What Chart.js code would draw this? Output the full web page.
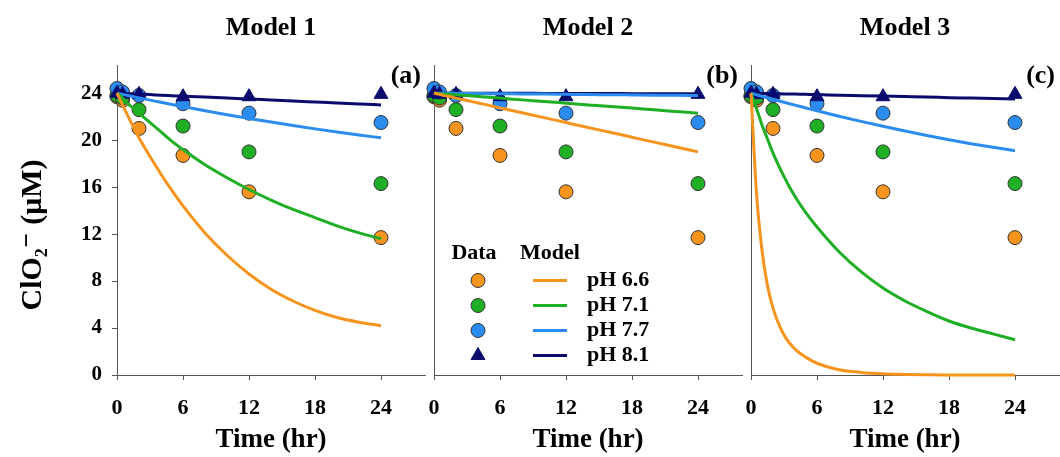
<!DOCTYPE html>
<html>
<head>
<meta charset="utf-8">
<title>ClO2- decay, three models</title>
<script src="https://cdn.jsdelivr.net/npm/chart.js@4.4.0/dist/chart.umd.min.js"></script>
<style>
    html, body { margin: 0; padding: 0; background: #fff; overflow: hidden; width: 1060px; height: 457px; }
    .panel { position: absolute; top: 0; height: 457px; }
    #p1 { left: 0; width: 434px; }
    #p2 { left: 424px; width: 327px; }
    #p3 { left: 741px; width: 327px; }
</style>
</head>
<body>
<div class="panel" id="p1"><canvas id="c1" width="434" height="457"></canvas></div>
<div class="panel" id="p2"><canvas id="c2" width="327" height="457"></canvas></div>
<div class="panel" id="p3"><canvas id="c3" width="327" height="457"></canvas></div>

<script>
// ========== DADOS ==========
const phLabels = ['pH 6.6', 'pH 7.1', 'pH 7.7', 'pH 8.1'];
const phColors = ['#F7941E', '#1FAF24', '#2B8CF0', '#0B0B6E'];
const panelTitles = ['Model 1', 'Model 2', 'Model 3'];
const panelTags = ['(a)', '(b)', '(c)'];
const xTickValues = [0, 6, 12, 18, 24];
const yTickValues = [0, 4, 8, 12, 16, 20, 24];

// measured points (same in every panel)
const dataTime = [0, 0.5, 2, 6, 12, 24];
const dataPH66 = [23.7, 23.4, 21.0, 18.7, 15.6, 11.7];
const dataPH71 = [23.8, 23.6, 22.6, 21.2, 19.0, 16.3];
const dataPH77 = [24.4, 24.1, 23.8, 23.1, 22.3, 21.5];
const dataPH81 = [24.0, 23.9, 23.9, 23.7, 23.7, 23.9];

// model curves
const modelTime = [0, 0.5, 1, 1.5, 2, 3, 4, 5, 6, 8, 10, 12, 14, 16, 18, 20, 22, 24];

const m1PH66 = [24, 23.0, 22.05, 21.1, 20.2, 18.6, 17.1, 15.7, 14.4, 12.1, 10.2, 8.6, 7.3, 6.3, 5.5, 4.9, 4.5, 4.2];
const m1PH71 = [24, 23.6, 23.1, 22.7, 22.3, 21.5, 20.7, 19.9, 19.2, 17.9, 16.8, 15.8, 14.9, 14.1, 13.4, 12.7, 12.1, 11.6];
const m1PH77 = [24, 23.9, 23.8, 23.7, 23.6, 23.41, 23.22, 23.04, 22.86, 22.51, 22.17, 21.85, 21.54, 21.24, 20.96, 20.69, 20.44, 20.2];
const m1PH81 = [24, 23.98, 23.96, 23.94, 23.92, 23.88, 23.83, 23.79, 23.75, 23.67, 23.58, 23.5, 23.42, 23.33, 23.25, 23.17, 23.08, 23.0];

const m2PH66 = [24, 23.9, 23.79, 23.69, 23.58, 23.38, 23.17, 22.96, 22.75, 22.33, 21.92, 21.5, 21.08, 20.67, 20.25, 19.83, 19.42, 19.0];
const m2PH71 = [24, 23.96, 23.93, 23.9, 23.86, 23.8, 23.72, 23.65, 23.58, 23.43, 23.3, 23.15, 23.0, 22.87, 22.73, 22.58, 22.44, 22.3];
const m2PH77 = [24, 24.0, 23.99, 23.99, 23.98, 23.98, 23.97, 23.96, 23.95, 23.93, 23.92, 23.9, 23.88, 23.87, 23.85, 23.83, 23.82, 23.8];
const m2PH81 = [24, 24, 24, 24, 24, 24, 24, 23.99, 23.99, 23.99, 23.98, 23.98, 23.97, 23.97, 23.96, 23.96, 23.95, 23.95];

const m3PH66 = [24, 15.5, 10.6, 7.6, 5.7, 3.4, 2.2, 1.5, 1.0, 0.45, 0.22, 0.1, 0.05, 0.02, 0, 0, 0, 0];
const m3PH71 = [24, 22.7, 21.3, 20.1, 18.9, 16.9, 15.2, 13.8, 12.6, 10.5, 8.8, 7.4, 6.3, 5.4, 4.6, 4.0, 3.5, 3.0];
const m3PH77 = [24, 23.87, 23.74, 23.61, 23.48, 23.23, 22.98, 22.74, 22.5, 22.04, 21.6, 21.18, 20.78, 20.4, 20.04, 19.7, 19.39, 19.1];
const m3PH81 = [24, 23.99, 23.98, 23.97, 23.96, 23.94, 23.92, 23.9, 23.88, 23.83, 23.79, 23.75, 23.71, 23.67, 23.62, 23.58, 23.54, 23.5];

const X_MAX = 28;
const Y_MAX = 26.4;
const SERIF = '"Liberation Serif", "Times New Roman", "DejaVu Serif", serif';

const dataSeries = [dataPH66, dataPH71, dataPH77, dataPH81];
const modelSeries = [
    [m1PH66, m1PH71, m1PH77, m1PH81],
    [m2PH66, m2PH71, m2PH77, m2PH81],
    [m3PH66, m3PH71, m3PH77, m3PH81]
];

// ========== PLUGINS ==========
// (a) / (b) / (c) no canto superior direito
const panelTagPlugin = {
    id: 'panelTag',
    afterDraw(chart, args, opts) {
        if (!opts.text) return;
        const { ctx, chartArea } = chart;
        ctx.save();
        ctx.font = 'bold 26px ' + SERIF;
        ctx.fillStyle = '#000';
        ctx.textAlign = 'right';
        ctx.textBaseline = 'middle';
        ctx.fillText(opts.text, chartArea.right - 4, chartArea.top + 11);
        ctx.restore();
    }
};

// legenda "Data / Model" dentro do painel 2
const phLegendPlugin = {
    id: 'phLegend',
    afterDraw(chart, args, opts) {
        if (!opts.show) return;
        const { ctx, chartArea } = chart;
        const x0 = chartArea.left, y0 = chartArea.top;
        ctx.save();
        ctx.font = 'bold 22px ' + SERIF;
        ctx.fillStyle = '#000';
        ctx.textBaseline = 'middle';
        ctx.textAlign = 'center';
        ctx.fillText('Data', x0 + 40, y0 + 188);
        ctx.fillText('Model', x0 + 116, y0 + 188);

        phLabels.forEach((label, i) => {
            const y = y0 + 215.5 + i * 25;
            const isTri = i === 3;
            ctx.fillStyle = phColors[i];
            ctx.strokeStyle = isTri ? phColors[i] : '#333';
            ctx.lineWidth = 1;
            Chart.helpers.drawPoint(ctx, {
                pointStyle: isTri ? 'triangle' : 'circle',
                radius: isTri ? 8 : 7,
                borderWidth: 1
            }, x0 + 44, y);

            ctx.strokeStyle = phColors[i];
            ctx.lineWidth = 3;
            ctx.beginPath();
            ctx.moveTo(x0 + 99, y);
            ctx.lineTo(x0 + 133, y);
            ctx.stroke();

            ctx.fillStyle = '#000';
            ctx.textAlign = 'left';
            ctx.fillText(label, x0 + 153, y);
        });
        ctx.restore();
    }
};

// ========== GRÁFICOS ==========
function buildDatasets(models) {
    const sets = [];
    models.forEach((vals, i) => {
        sets.push({
            label: phLabels[i] + ' model',
            data: modelTime.map((t, k) => ({ x: t, y: vals[k] })),
            showLine: true,
            borderColor: phColors[i],
            borderWidth: 3,
            pointRadius: 0,
            cubicInterpolationMode: 'monotone',
            order: 0,
            clip: false
        });
    });
    dataSeries.forEach((vals, i) => {
        const isTri = i === 3;
        sets.push({
            label: phLabels[i] + ' data',
            data: dataTime.map((t, k) => ({ x: t, y: vals[k] })),
            showLine: false,
            pointStyle: isTri ? 'triangle' : 'circle',
            pointRadius: isTri ? 8 : 7,
            backgroundColor: phColors[i],
            borderColor: isTri ? phColors[i] : '#333',
            pointBorderWidth: 1,
            order: 4 - i,
            clip: false
        });
    });
    return sets;
}

function makePanel(idx) {
    const first = idx === 0;
    const ctx = document.getElementById('c' + (idx + 1)).getContext('2d');

    new Chart(ctx, {
        type: 'scatter',
        data: { datasets: buildDatasets(modelSeries[idx]) },
        plugins: [panelTagPlugin, phLegendPlugin],
        options: {
            responsive: false,
            animation: false,
            events: [],
            layout: { padding: { left: first ? 0 : 10, right: 0, top: 0, bottom: 0 } },
            plugins: {
                legend: { display: false },
                tooltip: { enabled: false },
                title: {
                    display: true,
                    text: panelTitles[idx],
                    fullSize: false,
                    color: '#000',
                    font: { family: SERIF, size: 26, weight: 'bold' },
                    padding: { top: 12.4, bottom: 21.4 }
                },
                panelTag: { text: panelTags[idx] },
                phLegend: { show: idx === 1 }
            },
            scales: {
                x: {
                    type: 'linear',
                    min: 0,
                    max: X_MAX,
                    afterBuildTicks: s => { s.ticks = xTickValues.map(v => ({ value: v })); },
                    afterFit: s => { s.height = 82; s.paddingLeft = 0; s.paddingRight = 0; },
                    grid: { display: true, drawOnChartArea: false, drawTicks: true, tickLength: 5, color: '#555' },
                    border: { display: true, color: '#555', width: 1 },
                    ticks: {
                        color: '#000',
                        font: { family: SERIF, size: 22, weight: 'bold' },
                        padding: 15,
                        maxRotation: 0,
                        autoSkip: false
                    },
                    title: {
                        display: true,
                        text: 'Time (hr)',
                        color: '#000',
                        font: { family: SERIF, size: 27, weight: 'bold' },
                        padding: { top: 0, bottom: 1 }
                    }
                },
                y: {
                    type: 'linear',
                    min: 0,
                    max: Y_MAX,
                    afterBuildTicks: s => { s.ticks = yTickValues.map(v => ({ value: v })); },
                    afterFit: s => { s.width = first ? 117 : 0; },
                    grid: { display: true, drawOnChartArea: false, drawTicks: first, tickLength: 5, color: '#555' },
                    border: { display: true, color: '#555', width: 1 },
                    ticks: {
                        display: first,
                        color: '#000',
                        font: { family: SERIF, size: 21, weight: 'bold' },
                        padding: 10
                    },
                    title: {
                        display: first,
                        // trailing spaces push the label a little lower, as in the original
                        text: 'ClO\u2082\u207B (\u03BCM)\u00A0\u00A0\u00A0\u00A0',
                        color: '#000',
                        font: { family: SERIF, size: 30, weight: 'bold' },
                        padding: { top: 15, bottom: 0 }
                    }
                }
            }
        }
    });
}

[0, 1, 2].forEach(makePanel);
</script>
</body>
</html>
